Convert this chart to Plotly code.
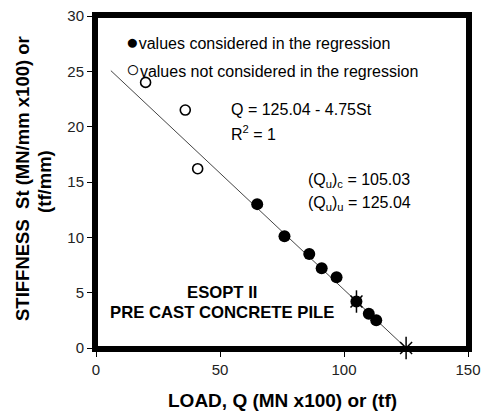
import plotly.graph_objects as go

# Data
reg_load = [65, 76, 86, 91, 97, 105, 110, 113]
reg_stiff = [13.0, 10.1, 8.5, 7.2, 6.4, 4.2, 3.1, 2.5]
nonreg_load = [20, 36, 41]
nonreg_stiff = [24.0, 21.5, 16.2]
intercept = 125.04
slope = 4.75
line_load = [6, 125.04]
line_stiff = [(intercept - q) / slope for q in line_load]
qu_load = [105.03, 125.04]
qu_stiff = [4.2, 0.0]
x_ticks = [0, 50, 100, 150]
y_ticks = [0, 5, 10, 15, 20, 25, 30]

FONT = "Arial, Liberation Sans, sans-serif"

fig = go.Figure()
fig.add_trace(go.Scatter(x=line_load, y=line_stiff, mode="lines",
                         line=dict(color="#444444", width=1), showlegend=False))
fig.add_trace(go.Scatter(x=reg_load, y=reg_stiff, mode="markers",
                         marker=dict(symbol="circle", size=12, color="black"),
                         showlegend=False))
fig.add_trace(go.Scatter(x=nonreg_load, y=nonreg_stiff, mode="markers",
                         marker=dict(symbol="circle-open", size=10, color="black",
                                     line=dict(width=1.6, color="black")),
                         showlegend=False))
fig.add_trace(go.Scatter(x=qu_load, y=qu_stiff, mode="markers",
                         marker=dict(symbol="x-thin-open", size=12, color="black",
                                     line=dict(width=1.5, color="black")),
                         showlegend=False, cliponaxis=False))
fig.add_trace(go.Scatter(x=qu_load, y=qu_stiff, mode="markers",
                         marker=dict(symbol="line-ns-open", size=16, color="black",
                                     line=dict(width=1.5, color="black")),
                         showlegend=False, cliponaxis=False))

txt = dict(family=FONT, size=16, color="black")
big = '<span style="font-size:%dpx">%s</span>'
ann = [
    dict(x=0.076, y=0.922, text=(big % (21, "●")) + "values considered in the regression", xanchor="left"),
    dict(x=0.076, y=0.840, text=(big % (23, "○")) + "values not considered in the regression", xanchor="left"),
    dict(x=0.358, y=0.717, text="Q = 125.04 - 4.75St", xanchor="left"),
    dict(x=0.358, y=0.648, text="R<sup>2</sup> = 1", xanchor="left"),
    dict(x=0.565, y=0.506, text="(Q<sub>u</sub>)<sub>c</sub> = 105.03", xanchor="left"),
    dict(x=0.565, y=0.436, text="(Q<sub>u</sub>)<sub>u</sub> = 125.04", xanchor="left"),
]
annotations = []
for a in ann:
    annotations.append(dict(xref="paper", yref="paper", x=a["x"], y=a["y"], text=a["text"],
                            xanchor=a["xanchor"], yanchor="middle", showarrow=False, font=txt))
bold = dict(family=FONT, size=16.7, color="black")
annotations.append(dict(xref="paper", yref="paper", x=0.339, y=0.168, text="<b>ESOPT II</b>",
                        showarrow=False, font=bold, xanchor="center", yanchor="middle"))
annotations.append(dict(xref="paper", yref="paper", x=0.339, y=0.108,
                        text="<b>PRE CAST CONCRETE PILE</b>",
                        showarrow=False, font=bold, xanchor="center", yanchor="middle"))
# axis titles
annotations.append(dict(xref="paper", yref="paper", x=0.5, y=-0.159,
                        text="<b>LOAD, Q (MN x100) or (tf)</b>", showarrow=False,
                        font=dict(family=FONT, size=19, color="black"),
                        xanchor="center", yanchor="middle"))
annotations.append(dict(xref="paper", yref="paper", x=-0.199, y=0.512,
                        text="<b>STIFFNESS  St (MN/mm x100) or</b>", showarrow=False,
                        textangle=-90, font=dict(family=FONT, size=18.5, color="black"),
                        xanchor="center", yanchor="middle"))
annotations.append(dict(xref="paper", yref="paper", x=-0.140, y=0.503,
                        text="<b>(tf/mm)</b>", showarrow=False,
                        textangle=-90, font=dict(family=FONT, size=18.5, color="black"),
                        xanchor="center", yanchor="middle"))

fig.update_layout(
    width=483, height=418,
    margin=dict(l=96, r=15, t=16, b=70),
    paper_bgcolor="white", plot_bgcolor="white",
    font=dict(family=FONT, size=15, color="#222222"),
    annotations=annotations,
    showlegend=False,
    shapes=[dict(type="rect", xref="paper", yref="paper", x0=0, x1=1, y0=0, y1=1,
                 line=dict(color="black", width=4), layer="above")],
)
fig.update_xaxes(range=[0, 150], tickvals=x_ticks, showgrid=False, zeroline=False,
                 automargin=False,
                 showline=True, linewidth=4, linecolor="black", mirror=True,
                 ticks="outside", ticklen=5, tickwidth=1, tickcolor="black",
                 tickfont=dict(size=15, color="#222222"))
fig.update_yaxes(range=[0, 30], tickvals=y_ticks, showgrid=False, zeroline=False,
                 automargin=False,
                 showline=True, linewidth=4, linecolor="black", mirror=True,
                 ticks="outside", ticklen=5, tickwidth=1, tickcolor="black",
                 tickfont=dict(size=15, color="#222222"))

fig.write_html("out.html",
               config={"displayModeBar": False},
               post_script="document.body.style.margin='0';"
                           "document.body.style.overflow='hidden';"
                           "document.documentElement.style.overflow='hidden';")
